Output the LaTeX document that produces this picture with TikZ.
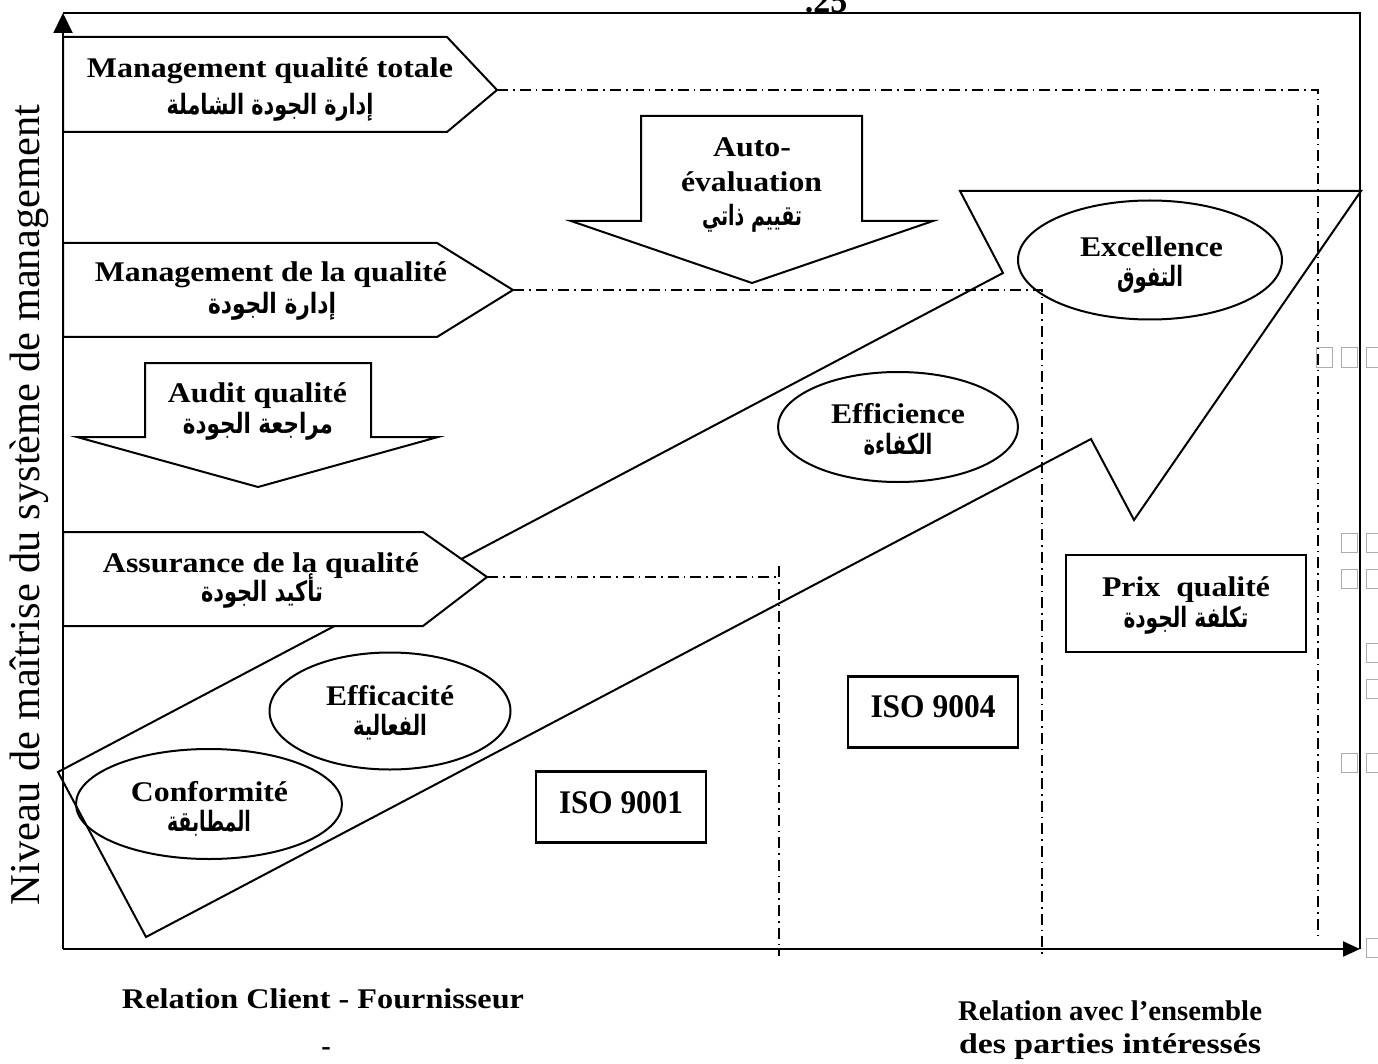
\documentclass[tikz,border=0pt]{standalone}
\usepackage{fontspec}
\usepackage{graphicx}
\usetikzlibrary{arrows.meta,shapes.geometric}
\setmainfont{Liberation Serif}
\newfontfamily\arabicfont[Script=Arabic]{DejaVu Sans}
\TeXXeTstate=1
% label fonts
\newcommand\latbf{\fontsize{28.5}{32}\selectfont\bfseries}
\newcommand\isobf{\fontsize{33}{38}\selectfont\bfseries}
\newcommand\arbf{\arabicfont\fontsize{28}{32}\selectfont\bfseries}
\newcommand\axisfont{\fontsize{42.5}{48}\selectfont}
% set a line to a given width, keeping its height
\newcommand\fitw[2]{\resizebox{#1pt}{\height}{#2}}
\newcommand\artxt[1]{\beginR #1\endR}
\begin{document}
\begin{tikzpicture}[x=1pt,y=-1pt,
  frame/.style={line width=2.2pt},
  outline/.style={draw, line width=2pt, line join=miter, fill=white},
  guide/.style={line width=1.8pt, dash pattern=on 11pt off 5pt on 1.6pt off 5pt},
  oval/.style={draw, ellipse, line width=2pt, inner sep=0pt},
  tag/.style={draw, rectangle, line width=2.4pt, inner sep=0pt},
  lat/.style={font=\latbf, inner sep=0pt, anchor=base},
  iso/.style={font=\isobf, inner sep=0pt, anchor=base},
  ara/.style={font=\arbf, inner sep=0pt, anchor=base},
  glyph/.style={draw=gray!65, line width=1pt},
]
\useasboundingbox (0,0) rectangle (1378,1064);

% ---- the rising arrow of the maturity path
\draw[line width=2pt, line join=miter]
  (58,772) -- (1003,273) -- (960,191) -- (1361,191) -- (1134,520)
  -- (1091,439) -- (146,937) -- cycle;

% ---- ellipses of the stages
\node[oval, minimum width=266pt, minimum height=110pt] (conf) at (209,804) {};
\node[oval, minimum width=241pt, minimum height=117pt] (effa) at (390,711) {};
\node[oval, minimum width=240pt, minimum height=110pt] (effi) at (898,427) {};
\node[oval, minimum width=264pt, minimum height=119pt] (exc) at (1150,260) {};

% ---- level boxes on the vertical axis
\coordinate (tqmTip) at (497,90);
\coordinate (mqTip) at (513,290);
\coordinate (aqTip) at (487,577);
\draw[outline] (63,37) -- (447,37) -- (tqmTip) -- (447,132) -- (63,132) -- cycle;
\draw[outline] (63,243) -- (437,243) -- (mqTip) -- (437,337) -- (63,337) -- cycle;
\draw[outline] (63,532) -- (423,532) -- (aqTip) -- (423,626) -- (63,626) -- cycle;

% ---- down arrows
\draw[outline] (145,363) -- (371,363) -- (371,437) -- (438,437) -- (258,487)
  -- (77,437) -- (145,437) -- cycle;
\draw[outline] (641,116) -- (862,116) -- (862,221) -- (933,221) -- (752,283)
  -- (571,221) -- (641,221) -- cycle;

% ---- dash-dot guides from the levels
\coordinate (tqmCorner) at (1318,90);
\coordinate (tqmEnd) at (1318,935);
\coordinate (mqCorner) at (1042,290);
\coordinate (mqEnd) at (1042,955);
\coordinate (aqCorner) at (779,577);
\coordinate (aqTop) at (779,566);
\coordinate (aqEnd) at (779,956);
\draw[guide] (tqmTip) -- (tqmCorner) -- (tqmEnd);
\draw[guide] (mqTip) -- (mqCorner) -- (mqEnd);
\draw[guide] (aqTip) -- (aqCorner);
\draw[guide] (aqTop) -- (aqEnd);

% ---- standards and award boxes
\node[tag, minimum width=170pt, minimum height=71pt] (iso1) at (621,807) {};
\node[tag, minimum width=170pt, minimum height=71pt] (iso4) at (933,712) {};
\node[tag, minimum width=240pt, minimum height=97pt] (prix) at (1186,603.5) {};

% ---- frame and axes
\coordinate (O) at (63,949);
\coordinate (ytop) at (63,13);
\coordinate (xend) at (1360,949);
\coordinate (tr) at (1360,13);
\draw[frame] (ytop) -- (tr) -- (xend);
\draw[frame, -{Triangle[length=20pt,width=19pt]}] (O) -- (ytop);
\draw[frame, -{Triangle[length=17pt,width=15pt]}] (O) -- (xend);

% ---- labels
\node[lat] (tqmFr) at (270,78) {\fitw{366}{Management qualité totale}};
\node[ara] (tqmAr) at (270,115) {\fitw{207}{\artxt{إدارة الجودة الشاملة}}};
\node[lat] (mqFr) at (271,282) {\fitw{352}{Management de la qualité}};
\node[ara] (mqAr) at (272,314) {\fitw{128}{\artxt{إدارة الجودة}}};
\node[lat] (auditFr) at (257.5,402) {\fitw{179}{Audit qualité}};
\node[ara] (auditAr) at (258,433) {\fitw{150}{\artxt{مراجعة الجودة}}};
\node[lat] (aqFr) at (261,572) {\fitw{316}{Assurance de la qualité}};
\node[ara] (aqAr) at (262,601) {\fitw{122}{\artxt{تأكيد الجودة}}};
\node[lat] (effaFr) at (390,705) {\fitw{128}{Efficacité}};
\node[ara] (effaAr) at (390,735) {\fitw{74}{\artxt{الفعالية}}};
\node[lat] (confFr) at (209.5,801) {\fitw{157}{Conformité}};
\node[ara] (confAr) at (209,831) {\fitw{84}{\artxt{المطابقة}}};
\node[lat] (autoFrA) at (752,157) {\fitw{78}{Auto-}};
\node[lat] (autoFrB) at (751.5,192) {\fitw{141}{évaluation}};
\node[ara] (autoAr) at (752,226) {\fitw{100}{\artxt{تقييم ذاتي}}};
\node[lat] (excFr) at (1151.5,257) {\fitw{143}{Excellence}};
\node[ara] (excAr) at (1150,287) {\fitw{66}{\artxt{التفوق}}};
\node[lat] (effiFr) at (898,423) {\fitw{134}{Efficience}};
\node[ara] (effiAr) at (898,454) {\fitw{69}{\artxt{الكفاءة}}};
\node[iso] (iso1t) at (621,813) {\fitw{124}{ISO 9001}};
\node[iso] (iso4t) at (933,717) {\fitw{125}{ISO 9004}};
\node[lat] (prixFr) at (1186,596) {\fitw{168}{Prix\ \ qualité}};
\node[ara] (prixAr) at (1186,627) {\fitw{125}{\artxt{تكلفة الجودة}}};

\node[lat] (relCF) at (323,1008) {\fitw{402}{Relation Client - Fournisseur}};
\node[lat] (relDash) at (326,1055) {-};
\node[lat] (relAllA) at (1110,1020) {\fitw{304}{Relation avec l’ensemble}};
\node[lat] (relAllB) at (1110,1053) {\fitw{302}{des parties intéressés}};

\node[font=\axisfont, inner sep=0pt, anchor=base, rotate=90] (yLabel) at (39,505)
  {Niveau de maîtrise du système de management};

\node[font=\fontsize{34}{38}\selectfont\bfseries, inner sep=0pt, anchor=base] (pageNo)
  at (826,13) {.25};

% ---- empty glyph boxes along the right edge
\foreach \gx/\gy in {1316/348, 1341/348, 1366/348, 1341/533, 1366/533,
  1341/569, 1366/569, 1366/643, 1366/679, 1341/753, 1366/753, 1366/938}
  \draw[glyph] (\gx,\gy) rectangle ++(16,19);
\end{tikzpicture}
\end{document}
